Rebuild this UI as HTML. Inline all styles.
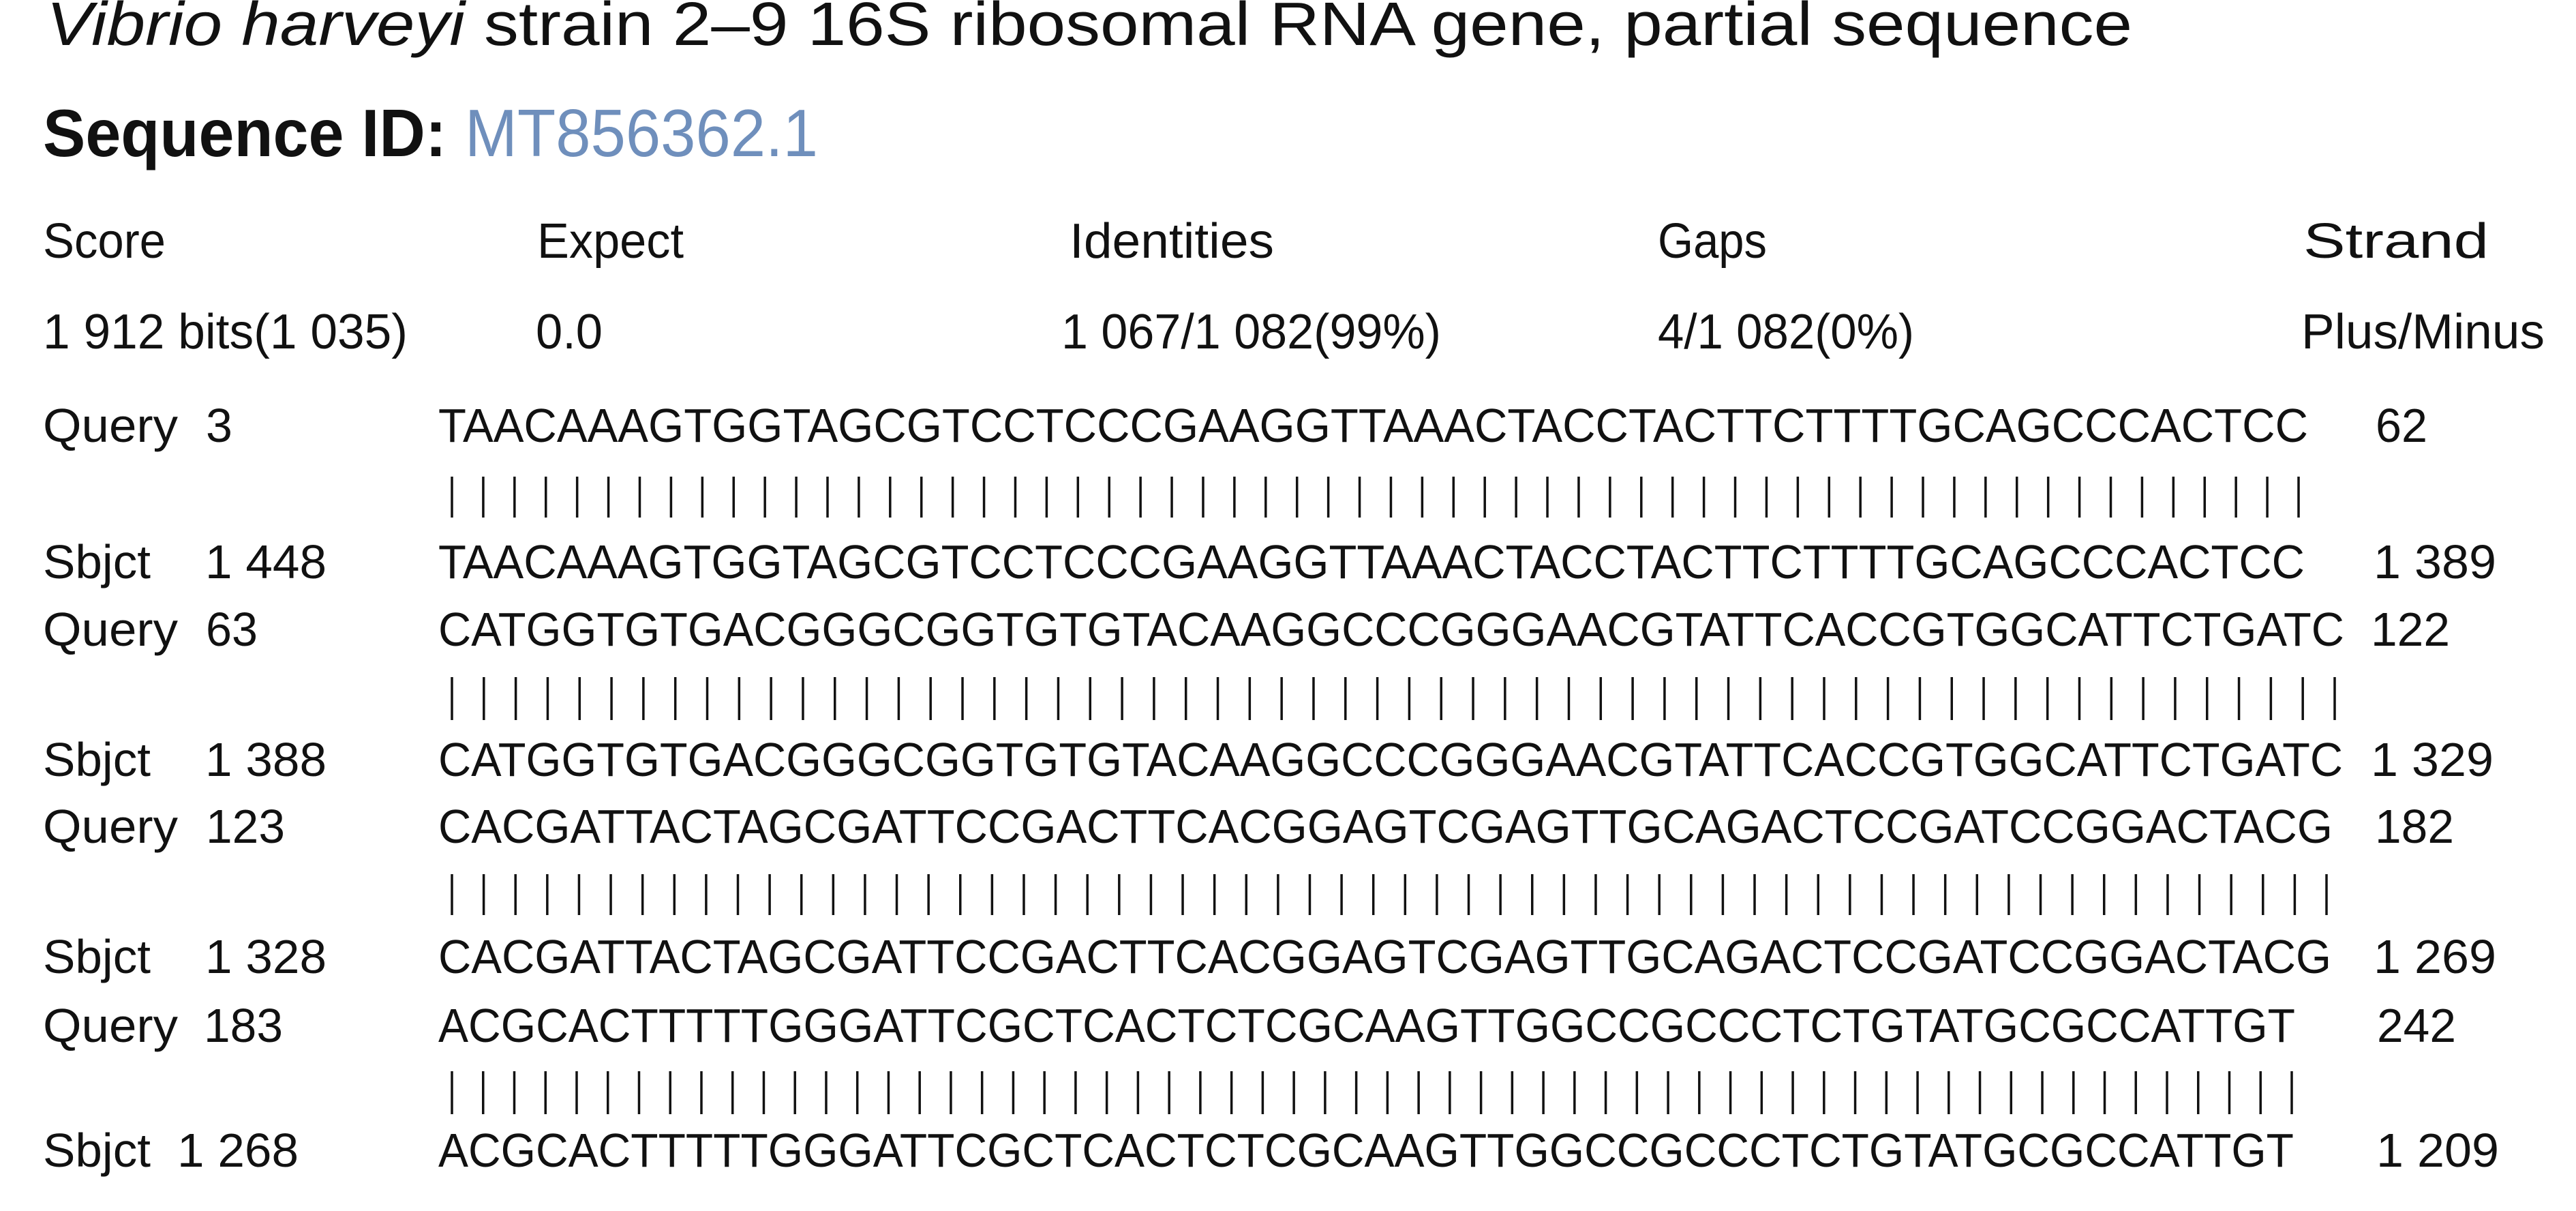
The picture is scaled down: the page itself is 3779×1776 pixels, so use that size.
<!DOCTYPE html>
<html><head><meta charset="utf-8"><style>
html,body{margin:0;padding:0;background:#fff;}
svg{display:block;}
text{font-family:"Liberation Sans",sans-serif;fill:#111;}
</style></head><body>
<svg width="3779" height="1776" viewBox="0 0 3779 1776" xmlns="http://www.w3.org/2000/svg">
<text x="68" y="66" font-size="90" textLength="3060" lengthAdjust="spacingAndGlyphs"><tspan font-style="italic">Vibrio harveyi</tspan> strain 2–9 16S ribosomal RNA gene, partial sequence</text>
<text x="63" y="229" font-size="98" font-weight="bold" textLength="592" lengthAdjust="spacingAndGlyphs">Sequence ID:</text>
<text x="682" y="229" font-size="98" style="fill:#6f8fbc" textLength="518" lengthAdjust="spacingAndGlyphs">MT856362.1</text>

<g font-size="72">
<text x="63" y="378" textLength="180" lengthAdjust="spacingAndGlyphs">Score</text>
<text x="788" y="378" textLength="215" lengthAdjust="spacingAndGlyphs">Expect</text>
<text x="1569" y="378" textLength="300" lengthAdjust="spacingAndGlyphs">Identities</text>
<text x="2432" y="378" textLength="160" lengthAdjust="spacingAndGlyphs">Gaps</text>
<text x="3379" y="378" textLength="272" lengthAdjust="spacingAndGlyphs">Strand</text>
<text x="63" y="511" textLength="535" lengthAdjust="spacingAndGlyphs">1 912 bits(1 035)</text>
<text x="786" y="511" textLength="98" lengthAdjust="spacingAndGlyphs">0.0</text>
<text x="1557" y="511" textLength="557" lengthAdjust="spacingAndGlyphs">1 067/1 082(99%)</text>
<text x="2432" y="511" textLength="376" lengthAdjust="spacingAndGlyphs">4/1 082(0%)</text>
<text x="3376" y="511" textLength="357" lengthAdjust="spacingAndGlyphs">Plus/Minus</text>
</g>

<g font-size="70">
<text x="63" y="648" textLength="198" lengthAdjust="spacingAndGlyphs">Query</text><text x="302" y="648">3</text>
<text x="643" y="648" textLength="2743" lengthAdjust="spacingAndGlyphs">TAACAAAGTGGTAGCGTCCTCCCGAAGGTTAAACTACCTACTTCTTTTGCAGCCCACTCC</text>
<text x="3485" y="648" textLength="76" lengthAdjust="spacingAndGlyphs">62</text>
<text x="63" y="848" textLength="158" lengthAdjust="spacingAndGlyphs">Sbjct</text><text x="301" y="848" textLength="178" lengthAdjust="spacingAndGlyphs">1 448</text>
<text x="643" y="848" textLength="2738" lengthAdjust="spacingAndGlyphs">TAACAAAGTGGTAGCGTCCTCCCGAAGGTTAAACTACCTACTTCTTTTGCAGCCCACTCC</text>
<text x="3482" y="848" textLength="180" lengthAdjust="spacingAndGlyphs">1 389</text>

<text x="63" y="947" textLength="198" lengthAdjust="spacingAndGlyphs">Query</text><text x="302" y="947" textLength="76" lengthAdjust="spacingAndGlyphs">63</text>
<text x="643" y="947" textLength="2796" lengthAdjust="spacingAndGlyphs">CATGGTGTGACGGGCGGTGTGTACAAGGCCCGGGAACGTATTCACCGTGGCATTCTGATC</text>
<text x="3478" y="947" textLength="116" lengthAdjust="spacingAndGlyphs">122</text>
<text x="63" y="1138" textLength="158" lengthAdjust="spacingAndGlyphs">Sbjct</text><text x="301" y="1138" textLength="178" lengthAdjust="spacingAndGlyphs">1 388</text>
<text x="643" y="1138" textLength="2794" lengthAdjust="spacingAndGlyphs">CATGGTGTGACGGGCGGTGTGTACAAGGCCCGGGAACGTATTCACCGTGGCATTCTGATC</text>
<text x="3478" y="1138" textLength="180" lengthAdjust="spacingAndGlyphs">1 329</text>

<text x="63" y="1236" textLength="198" lengthAdjust="spacingAndGlyphs">Query</text><text x="302" y="1236" textLength="116" lengthAdjust="spacingAndGlyphs">123</text>
<text x="643" y="1236" textLength="2779" lengthAdjust="spacingAndGlyphs">CACGATTACTAGCGATTCCGACTTCACGGAGTCGAGTTGCAGACTCCGATCCGGACTACG</text>
<text x="3484" y="1236" textLength="116" lengthAdjust="spacingAndGlyphs">182</text>
<text x="63" y="1427" textLength="158" lengthAdjust="spacingAndGlyphs">Sbjct</text><text x="301" y="1427" textLength="178" lengthAdjust="spacingAndGlyphs">1 328</text>
<text x="643" y="1427" textLength="2777" lengthAdjust="spacingAndGlyphs">CACGATTACTAGCGATTCCGACTTCACGGAGTCGAGTTGCAGACTCCGATCCGGACTACG</text>
<text x="3482" y="1427" textLength="180" lengthAdjust="spacingAndGlyphs">1 269</text>

<text x="63" y="1528" textLength="198" lengthAdjust="spacingAndGlyphs">Query</text><text x="299" y="1528" textLength="116" lengthAdjust="spacingAndGlyphs">183</text>
<text x="643" y="1528" textLength="2724" lengthAdjust="spacingAndGlyphs">ACGCACTTTTTGGGATTCGCTCACTCTCGCAAGTTGGCCGCCCTCTGTATGCGCCATTGT</text>
<text x="3487" y="1528" textLength="116" lengthAdjust="spacingAndGlyphs">242</text>
<text x="63" y="1711" textLength="158" lengthAdjust="spacingAndGlyphs">Sbjct</text><text x="260" y="1711" textLength="178" lengthAdjust="spacingAndGlyphs">1 268</text>
<text x="643" y="1711" textLength="2722" lengthAdjust="spacingAndGlyphs">ACGCACTTTTTGGGATTCGCTCACTCTCGCAAGTTGGCCGCCCTCTGTATGCGCCATTGT</text>
<text x="3486" y="1711" textLength="180" lengthAdjust="spacingAndGlyphs">1 209</text>
</g>

<g stroke="#111" stroke-width="3.5" id="bars"></g>
</svg>
<script>
(function(){
  var g=document.getElementById('bars');
  var rows=[[663,3372,699,759],[663,3425,993,1056],[663,3413,1282,1342],[663,3362,1571,1634]];
  var ns='http://www.w3.org/2000/svg';
  rows.forEach(function(r){
    for(var i=0;i<60;i++){
      var x=r[0]+(r[1]-r[0])*i/59;
      var l=document.createElementNS(ns,'line');
      l.setAttribute('x1',x);l.setAttribute('x2',x);
      l.setAttribute('y1',r[2]);l.setAttribute('y2',r[3]);
      g.appendChild(l);
    }
  });
})();
</script>
</body></html>
